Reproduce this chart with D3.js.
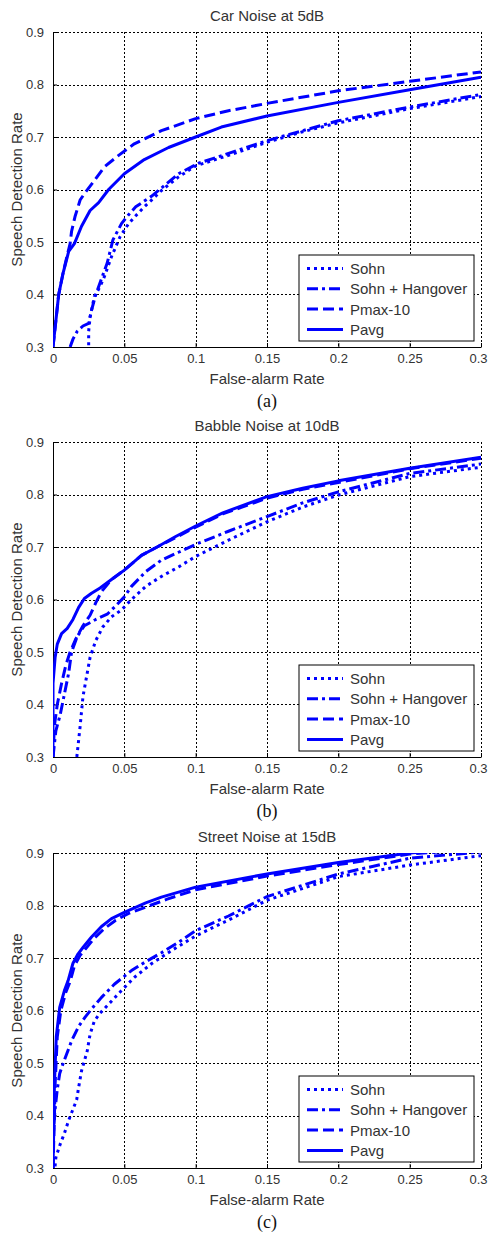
<!DOCTYPE html>
<meta charset="utf-8">
<head>
  <title>vad-roc</title>
</head>
<style>
  body { margin: 0; background: #fff; }
  text { font-family: "Liberation Sans", Arial, sans-serif; fill: #333; }
  .cap { font-family: "Liberation Serif", "Times New Roman", serif; fill: #111; }
</style>
<body>
  <svg width="489" height="1234"></svg>

  <script src="https://cdnjs.cloudflare.com/ajax/libs/d3/7.8.5/d3.min.js"></script>
  <script>
    // tick labels
    var xTicks = [0, 0.05, 0.1, 0.15, 0.2, 0.25, 0.3];
    var yTicks = [0.3, 0.4, 0.5, 0.6, 0.7, 0.8, 0.9];
    var seriesNames = ['Sohn', 'Sohn + Hangover', 'Pmax-10', 'Pavg'];
    var dashes = ['3,4', '11,4,3,4', '11,5', null];

    // (a) car noise 5dB   -- [false-alarm, detection]
    var carSohn = [[0.025,0.29],[0.025,0.33],[0.026,0.357],[0.029,0.396],[0.033,0.415],[0.036,0.434],[0.041,0.472],[0.047,0.51],[0.053,0.535],[0.058,0.55],[0.064,0.567],[0.07,0.582],[0.076,0.598],[0.088,0.624],[0.1,0.645],[0.123,0.665],[0.15,0.69],[0.175,0.71],[0.2,0.727],[0.25,0.754],[0.3,0.777]];
    var carSohnH = [[0.012,0.3],[0.014,0.315],[0.017,0.33],[0.021,0.34],[0.025,0.345],[0.027,0.37],[0.03,0.4],[0.034,0.43],[0.038,0.46],[0.042,0.504],[0.048,0.535],[0.053,0.552],[0.058,0.567],[0.064,0.578],[0.069,0.587],[0.077,0.605],[0.088,0.63],[0.102,0.65],[0.13,0.675],[0.15,0.693],[0.2,0.731],[0.25,0.757],[0.3,0.781]];
    var carPmax = [[0,0.3],[0.002,0.35],[0.004,0.4],[0.007,0.44],[0.01,0.475],[0.012,0.497],[0.013,0.52],[0.0154,0.548],[0.019,0.58],[0.022,0.592],[0.029,0.617],[0.036,0.643],[0.046,0.665],[0.057,0.687],[0.076,0.712],[0.1,0.735],[0.123,0.75],[0.15,0.764],[0.2,0.788],[0.25,0.806],[0.3,0.824]];
    var carPavg = [[0,0.3],[0.002,0.35],[0.004,0.4],[0.007,0.44],[0.011,0.482],[0.015,0.497],[0.02,0.53],[0.026,0.56],[0.032,0.575],[0.039,0.6],[0.05,0.63],[0.064,0.657],[0.081,0.68],[0.1,0.7],[0.118,0.719],[0.15,0.74],[0.2,0.766],[0.25,0.79],[0.3,0.814]];

    // (b) babble noise 10dB
    var babSohn = [[0.0167,0.3],[0.019,0.358],[0.021,0.415],[0.024,0.46],[0.026,0.49],[0.03,0.522],[0.035,0.548],[0.041,0.567],[0.048,0.58],[0.055,0.6],[0.065,0.625],[0.076,0.644],[0.088,0.662],[0.1,0.682],[0.123,0.713],[0.15,0.748],[0.175,0.776],[0.2,0.799],[0.25,0.834],[0.3,0.852]];
    var babSohnH = [[0,0.3],[0.002,0.35],[0.005,0.38],[0.008,0.42],[0.011,0.46],[0.013,0.5],[0.017,0.53],[0.022,0.55],[0.03,0.562],[0.038,0.572],[0.044,0.588],[0.05,0.605],[0.055,0.625],[0.065,0.653],[0.076,0.675],[0.088,0.69],[0.1,0.705],[0.123,0.73],[0.15,0.758],[0.175,0.784],[0.2,0.805],[0.25,0.84],[0.3,0.858]];
    var babPmax = [[0,0.3],[0.001,0.36],[0.003,0.4],[0.006,0.44],[0.009,0.475],[0.012,0.5],[0.016,0.525],[0.021,0.55],[0.026,0.57],[0.03,0.594],[0.034,0.615],[0.041,0.638],[0.05,0.656],[0.062,0.684],[0.073,0.7],[0.086,0.718],[0.1,0.738],[0.119,0.763],[0.15,0.793],[0.175,0.81],[0.2,0.823],[0.25,0.849],[0.3,0.869]];
    var babPavg = [[0,0.3],[0,0.44],[0.0015,0.49],[0.003,0.515],[0.006,0.535],[0.01,0.545],[0.014,0.562],[0.018,0.585],[0.022,0.602],[0.027,0.612],[0.033,0.622],[0.041,0.638],[0.05,0.656],[0.062,0.684],[0.073,0.7],[0.086,0.72],[0.1,0.74],[0.119,0.765],[0.15,0.796],[0.175,0.812],[0.2,0.826],[0.25,0.85],[0.3,0.871]];

    // (c) street noise 15dB
    var strSohn = [[0.001,0.29],[0.002,0.32],[0.005,0.345],[0.008,0.366],[0.011,0.391],[0.0166,0.43],[0.018,0.454],[0.02,0.485],[0.024,0.523],[0.026,0.555],[0.029,0.58],[0.033,0.595],[0.039,0.612],[0.048,0.638],[0.057,0.663],[0.069,0.689],[0.083,0.714],[0.1,0.742],[0.125,0.775],[0.15,0.81],[0.2,0.855],[0.25,0.877],[0.3,0.895]];
    var strSohnH = [[0,0.3],[0.0005,0.38],[0.0014,0.41],[0.003,0.45],[0.0047,0.48],[0.0072,0.5],[0.013,0.542],[0.018,0.57],[0.0224,0.587],[0.027,0.603],[0.034,0.625],[0.043,0.65],[0.055,0.676],[0.065,0.693],[0.076,0.71],[0.088,0.73],[0.1,0.752],[0.123,0.78],[0.15,0.817],[0.2,0.86],[0.25,0.89],[0.3,0.902]];
    var strPmax = [[0,0.3],[0.001,0.4],[0.0015,0.46],[0.003,0.55],[0.0055,0.6],[0.009,0.635],[0.012,0.655],[0.015,0.685],[0.019,0.705],[0.023,0.718],[0.029,0.738],[0.036,0.756],[0.044,0.772],[0.053,0.785],[0.068,0.8],[0.08,0.812],[0.1,0.83],[0.15,0.856],[0.2,0.878],[0.25,0.898],[0.3,0.908]];
    var strPavg = [[0,0.3],[0.0007,0.4],[0.001,0.46],[0.0023,0.55],[0.0047,0.606],[0.008,0.638],[0.0106,0.657],[0.014,0.69],[0.0176,0.708],[0.021,0.72],[0.027,0.74],[0.034,0.76],[0.041,0.775],[0.05,0.787],[0.065,0.805],[0.076,0.816],[0.1,0.835],[0.15,0.86],[0.2,0.882],[0.25,0.9],[0.3,0.91]];

    var panels = [
      { title: 'Car Noise at 5dB', cap: '(a)', top: 32, series: [carSohn, carSohnH, carPmax, carPavg] },
      { title: 'Babble Noise at 10dB', cap: '(b)', top: 442, series: [babSohn, babSohnH, babPmax, babPavg] },
      { title: 'Street Noise at 15dB', cap: '(c)', top: 853, series: [strSohn, strSohnH, strPmax, strPavg] }
    ];

    var left = 53, right = 481, ph = 315;
    var svg = d3.select('svg');

    var x = d3.scaleLinear().domain([0, 0.3]).range([left, right]);

    panels.forEach(function(p, pi) {
      var y = d3.scaleLinear().domain([0.3, 0.9]).range([p.top + ph, p.top]);
      var g = svg.append('g');

      g.append('clipPath').attr('id', 'clip' + pi)
        .append('rect')
        .attr('x', left).attr('y', p.top)
        .attr('width', right - left).attr('height', ph);

      // grid
      g.selectAll('.vg').data(xTicks.slice(1)).enter().append('line')
        .attr('x1', function(d) { return Math.round(x(d)) + 0.5; })
        .attr('x2', function(d) { return Math.round(x(d)) + 0.5; })
        .attr('y1', p.top).attr('y2', p.top + ph)
        .attr('stroke', '#000').attr('stroke-width', 1)
        .attr('stroke-dasharray', '2,2');
      g.selectAll('.hg').data(yTicks.slice(1)).enter().append('line')
        .attr('y1', function(d) { return Math.round(y(d)) + 0.5; })
        .attr('y2', function(d) { return Math.round(y(d)) + 0.5; })
        .attr('x1', left).attr('x2', right)
        .attr('stroke', '#000').attr('stroke-width', 1)
        .attr('stroke-dasharray', '2,2');

      // axes
      var xAxis = d3.axisBottom(x).tickValues(xTicks)
        .tickFormat(d3.format('')).tickSizeInner(-4).tickSizeOuter(0).tickPadding(7);
      var yAxis = d3.axisLeft(y).tickValues(yTicks)
        .tickFormat(d3.format('')).tickSizeInner(-4).tickSizeOuter(0).tickPadding(9);

      var gx = g.append('g').attr('transform', 'translate(0,' + (p.top + ph) + ')').call(xAxis);
      var gy = g.append('g').attr('transform', 'translate(' + left + ',0)').call(yAxis);
      [gx, gy].forEach(function(a) {
        a.selectAll('text').style('font-size', '13px').attr('fill', '#333');
        a.selectAll('line, path').attr('stroke', '#000');
      });
      // keep the last x label inside the page
      gx.selectAll('.tick text').filter(function(d) { return d === 0.3; }).attr('dx', '-3');

      // curves
      var line = d3.line()
        .x(function(d) { return x(d[0]); })
        .y(function(d) { return y(d[1]); });

      g.append('g').attr('clip-path', 'url(#clip' + pi + ')')
        .selectAll('path').data(p.series).enter().append('path')
        .attr('d', line)
        .attr('fill', 'none')
        .attr('stroke', '#0000ff')
        .attr('stroke-width', 3)
        .attr('stroke-linejoin', 'round')
        .attr('stroke-dasharray', function(d, i) { return dashes[i]; });

      // titles and labels
      g.append('text').attr('x', (left + right) / 2).attr('y', p.top - 11)
        .attr('text-anchor', 'middle').style('font-size', '15px').text(p.title);
      g.append('text').attr('x', (left + right) / 2).attr('y', p.top + ph + 37)
        .attr('text-anchor', 'middle').style('font-size', '15px').text('False-alarm Rate');
      g.append('text')
        .attr('transform', 'translate(22,' + (p.top + ph / 2) + ') rotate(-90)')
        .attr('text-anchor', 'middle').style('font-size', '15px').text('Speech Detection Rate');
      g.append('text').attr('class', 'cap')
        .attr('x', (left + right) / 2).attr('y', p.top + ph + 60)
        .attr('text-anchor', 'middle').style('font-size', '18px').text(p.cap);

      // legend
      var lx = 299, ly = p.top + ph - 92;
      var lg = g.append('g').attr('transform', 'translate(' + lx + ',' + ly + ')');
      lg.append('rect').attr('width', 175).attr('height', 86)
        .attr('fill', '#fff').attr('stroke', '#000').attr('stroke-width', 1);
      seriesNames.forEach(function(name, i) {
        var yy = 13.5 + i * 20.3;
        lg.append('line').attr('x1', 8).attr('x2', 44).attr('y1', yy).attr('y2', yy)
          .attr('stroke', '#0000ff').attr('stroke-width', 3)
          .attr('stroke-dasharray', dashes[i]);
        lg.append('text').attr('x', 51).attr('y', yy + 5.5)
          .style('font-size', '15px').text(name);
      });
    });
  </script>
</body>
</html>
